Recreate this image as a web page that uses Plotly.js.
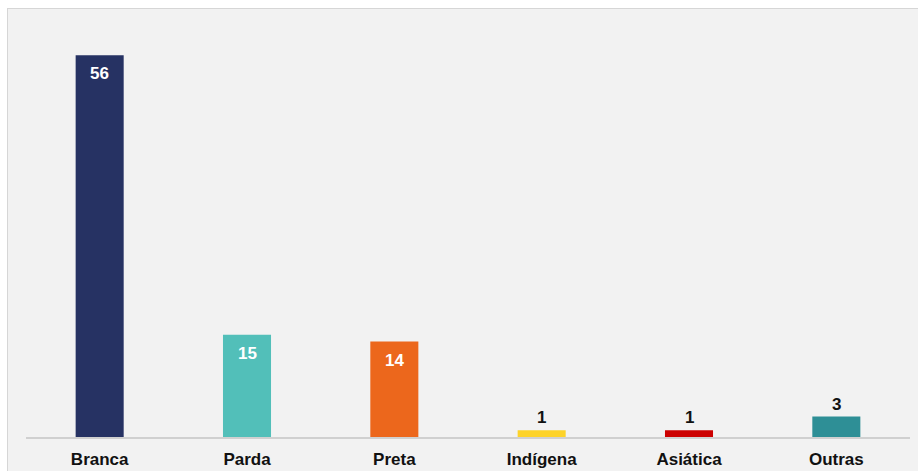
<!DOCTYPE html>
<html>
<head>
<meta charset="utf-8">
<script src="https://cdn.plot.ly/plotly-3.0.1.min.js"></script>
<style>
  html, body { margin:0; padding:0; background:#ffffff; width:918px; height:471px; overflow:hidden; }
  #panel { position:absolute; left:7px; top:8px; width:911px; height:463px; background:#f2f2f2;
           border-left:1.5px solid #d6d6d6; border-top:1.5px solid #d6d6d6; box-sizing:border-box; }
  #chart { position:absolute; left:0px; top:0px; width:918px; height:471px; }
</style>
</head>
<body>
<div id="panel"></div>
<div id="chart"></div>
<script>
const categories = ["Branca", "Parda", "Preta", "Indígena", "Asiática", "Outras"];
const values = [56, 15, 14, 1, 1, 3];
const colors = ["#263263", "#52bfb9", "#ec671c", "#fdd32a", "#cc0000", "#2e8f96"];

const labelFont = "Arial, 'Liberation Sans', sans-serif";

const annotations = categories.map((c, i) => {
  const inside = values[i] >= 10;
  return {
    x: c, y: values[i], xref: "x", yref: "y",
    text: String(values[i]),
    showarrow: false,
    yanchor: inside ? "top" : "bottom",
    yshift: inside ? -7 : 1,
    font: { family: labelFont, size: 17, color: inside ? "#ffffff" : "#111111", weight: "bold" }
  };
});

const trace = {
  type: "bar",
  x: categories,
  y: values,
  marker: { color: colors, line: { width: 0 } },
  hoverinfo: "x+y"
};

const layout = {
  width: 918, height: 471,
  margin: { l: 26, r: 8, t: 28, b: 34, pad: 0 },
  paper_bgcolor: "rgba(0,0,0,0)",
  plot_bgcolor: "rgba(0,0,0,0)",
  bargap: 0.674,
  showlegend: false,
  xaxis: {
    type: "category",
    showline: true, linecolor: "#d0d0d0", linewidth: 1.5,
    showgrid: false, zeroline: false, ticks: "",
    tickfont: { family: labelFont, size: 17, color: "#111111", weight: "bold" },
    ticklabelstandoff: 6
  },
  yaxis: {
    range: [0, 60], visible: false, showgrid: false, zeroline: false, fixedrange: true
  },
  annotations: annotations
};

Plotly.newPlot("chart", [trace], layout, { displayModeBar: false, staticPlot: true });
</script>
</body>
</html>
